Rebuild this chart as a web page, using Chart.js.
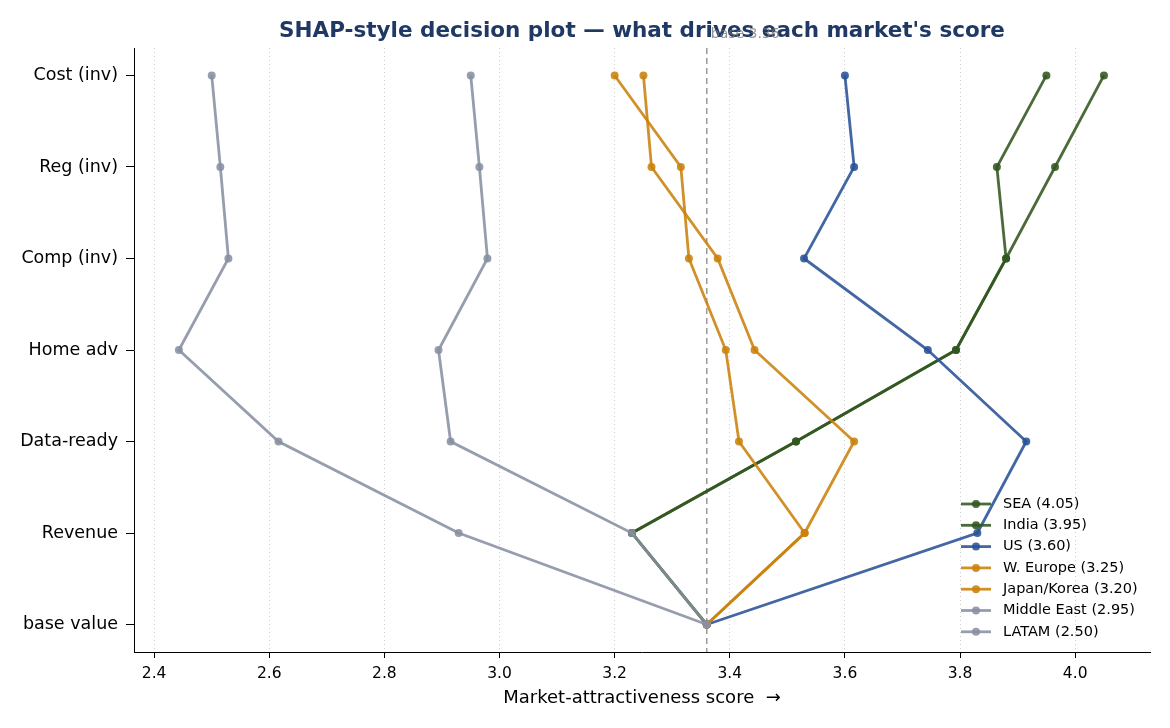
<!DOCTYPE html>
<html>
<head>
<meta charset="utf-8">
<script src="https://cdn.jsdelivr.net/npm/chart.js@4.4.0/dist/chart.umd.min.js"></script>
<style>
html, body { margin: 0; padding: 0; background: #fff; }
#wrap { width: 1170px; height: 728px; }
</style>
</head>
<body>
<div id="wrap"><canvas id="chart" width="1170" height="728"></canvas></div>
<script>
// Features, from the base value (bottom) to the top of the plot
var features = ["base value", "Revenue", "Data-ready", "Home adv", "Comp (inv)", "Reg (inv)", "Cost (inv)"];
var xTicks = [2.4, 2.6, 2.8, 3.0, 3.2, 3.4, 3.6, 3.8, 4.0];
var baseValue = 3.36;

// Cumulative score of each market after each feature
var markets = ["SEA (4.05)", "India (3.95)", "US (3.60)", "W. Europe (3.25)", "Japan/Korea (3.20)", "Middle East (2.95)", "LATAM (2.50)"];
var seaPath        = [3.36, 3.23, 3.515, 3.793, 3.88, 3.965, 4.05];
var indiaPath      = [3.36, 3.23, 3.515, 3.793, 3.88, 3.864, 3.95];
var usPath         = [3.36, 3.83, 3.915, 3.744, 3.529, 3.616, 3.60];
var wEuropePath    = [3.36, 3.53, 3.616, 3.443, 3.379, 3.264, 3.25];
var japanKoreaPath = [3.36, 3.53, 3.416, 3.393, 3.329, 3.315, 3.20];
var middleEastPath = [3.36, 3.23, 2.915, 2.894, 2.979, 2.965, 2.95];
var latamPath      = [3.36, 2.929, 2.616, 2.443, 2.529, 2.515, 2.50];

var paths = [seaPath, indiaPath, usPath, wEuropePath, japanKoreaPath, middleEastPath, latamPath];
var colors = [
    'rgba(50, 86, 32, 0.88)',
    'rgba(50, 86, 32, 0.88)',
    'rgba(40, 82, 150, 0.88)',
    'rgba(203, 130, 12, 0.88)',
    'rgba(203, 130, 12, 0.88)',
    'rgba(135, 144, 162, 0.88)',
    'rgba(135, 144, 162, 0.88)'
];

var FONT = "'DejaVu Sans', sans-serif";

var datasets = paths.map(function (p, i) {
    return {
        label: markets[i],
        data: p.map(function (v, j) { return { x: v, y: j }; }),
        showLine: true,
        borderColor: colors[i],
        backgroundColor: colors[i],
        borderWidth: 2.8,
        pointRadius: 4,
        pointHoverRadius: 4,
        pointBorderWidth: 0,
        order: paths.length - i
    };
});

// Title, base line, axis title and legend
var decorPlugin = {
    id: 'decor',
    beforeDatasetsDraw: function (chart) {
        var ctx = chart.ctx, area = chart.chartArea;
        var x = chart.scales.x.getPixelForValue(baseValue);
        ctx.save();
        ctx.strokeStyle = '#999999';
        ctx.lineWidth = 1.5;
        ctx.setLineDash([6, 4]);
        ctx.beginPath();
        ctx.moveTo(x, area.top);
        ctx.lineTo(x, area.bottom);
        ctx.stroke();
        ctx.restore();
    },
    afterDraw: function (chart) {
        var ctx = chart.ctx, area = chart.chartArea;
        ctx.save();
        // title
        ctx.fillStyle = '#1f3864';
        ctx.font = 'bold 21.5px ' + FONT;
        ctx.textAlign = 'center';
        ctx.textBaseline = 'middle';
        ctx.fillText("SHAP-style decision plot \u2014 what drives each market's score", (area.left + area.right) / 2, 31);

        // base label
        var bx = chart.scales.x.getPixelForValue(baseValue);
        ctx.fillStyle = 'rgba(120,120,120,0.8)';
        ctx.font = '14px ' + FONT;
        ctx.textAlign = 'left';
        ctx.fillText('base ' + baseValue.toFixed(2), bx + 4, 34);

        // x axis title
        ctx.fillStyle = '#000';
        ctx.font = '18px ' + FONT;
        ctx.textAlign = 'center';
        ctx.fillText('Market-attractiveness score  \u2192', (area.left + area.right) / 2, 698);

        // legend
        ctx.font = '14.5px ' + FONT;
        ctx.textAlign = 'left';
        for (var i = 0; i < markets.length; i++) {
            var y = 504 + i * 21.3;
            ctx.strokeStyle = colors[i];
            ctx.fillStyle = colors[i];
            ctx.lineWidth = 2.8;
            ctx.beginPath();
            ctx.moveTo(961, y);
            ctx.lineTo(991, y);
            ctx.stroke();
            ctx.beginPath();
            ctx.arc(976, y, 4, 0, Math.PI * 2);
            ctx.fill();
            ctx.fillStyle = '#000';
            ctx.fillText(markets[i], 1003, y);
        }
        ctx.restore();
    }
};

new Chart(document.getElementById('chart').getContext('2d'), {
    type: 'scatter',
    data: { datasets: datasets },
    options: {
        responsive: false,
        animation: false,
        events: [],
        layout: { padding: { top: 48, right: 20, left: 0, bottom: 0 } },
        plugins: {
            legend: { display: false },
            title: { display: false },
            tooltip: { enabled: false }
        },
        scales: {
            x: {
                type: 'linear',
                min: 2.365,
                max: 4.13,
                afterBuildTicks: function (scale) {
                    scale.ticks = xTicks.map(function (v) { return { value: v }; });
                },
                afterFit: function (scale) { scale.height = 76; },
                ticks: {
                    color: '#000',
                    font: { family: FONT, size: 15.5 },
                    padding: 7,
                    maxRotation: 0,
                    callback: function (v) { return Number(v).toFixed(1); }
                },
                grid: { color: '#cfcfcf', lineWidth: 1, tickColor: '#000', tickLength: 6, tickWidth: 1 },
                border: { display: true, color: '#000', width: 1, dash: [1, 3] }
            },
            y: {
                type: 'linear',
                min: -0.3,
                max: 6.3,
                afterBuildTicks: function (scale) {
                    scale.ticks = features.map(function (f, i) { return { value: i }; });
                },
                afterFit: function (scale) { scale.width = 134; },
                ticks: {
                    color: '#000',
                    font: { family: FONT, size: 17.5 },
                    padding: 8,
                    callback: function (v) { return features[v]; }
                },
                grid: { drawOnChartArea: false, tickColor: '#000', tickLength: 8, tickWidth: 1 },
                border: { display: true, color: '#000', width: 1 }
            }
        }
    },
    plugins: [decorPlugin]
});
</script>
</body>
</html>
